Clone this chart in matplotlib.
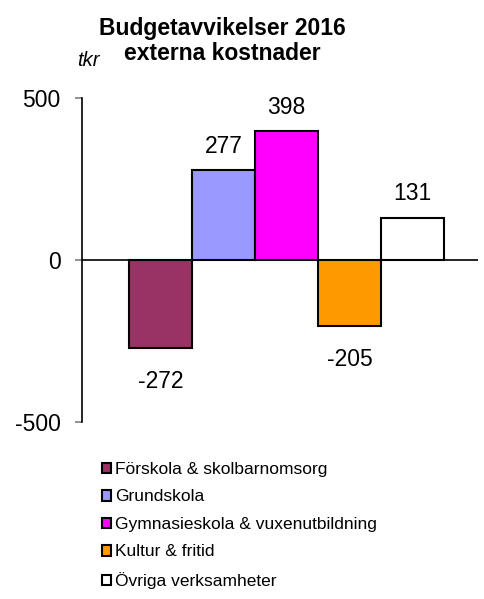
import matplotlib
matplotlib.use("Agg")
import matplotlib.pyplot as plt

plt.rcParams['font.family'] = ['Liberation Sans', 'DejaVu Sans']
plt.rcParams['axes.unicode_minus'] = False

# Budgetavvikelser per verksamhet (tkr)
kategorier = ["Förskola & skolbarnomsorg", "Grundskola",
              "Gymnasieskola & vuxenutbildning", "Kultur & fritid",
              "Övriga verksamheter"]
avvikelse = [-272, 277, 398, -205, 131]
farger = ["#993366", "#9999FF", "#FF00FF", "#FF9900", "#FFFFFF"]

fig = plt.figure(figsize=(4.84, 5.99), dpi=100)
ax = fig.add_axes([82 / 484, 1 - 422 / 599, 396 / 484, 324 / 599])

x = list(range(len(avvikelse)))
staplar = ax.bar(x, avvikelse, width=1.0, color=farger, edgecolor="black",
                 linewidth=1.5, label=kategorier, zorder=3)

# värdeetiketter ovanför/under staplarna
for xi, v in zip(x, avvikelse):
    dy = 17 if v >= 0 else -24
    ax.annotate(f"{v}", (xi, v), xytext=(0, dy), textcoords="offset points",
                ha="center", va="center", fontsize=16.5)

ax.axhline(0, color="black", linewidth=1.2, zorder=2)
ax.set_ylim(-500, 500)
ax.set_xlim(-0.5 - 47 / 63, 4.5 + 34 / 63)
ax.set_yticks([-500, 0, 500])
ax.tick_params(axis="y", labelsize=16.5, length=5, width=1.2, color="#808080",
               pad=10.5)
ax.set_xticks([])
for s in ["top", "right", "bottom"]:
    ax.spines[s].set_visible(False)
ax.spines["left"].set_linewidth(1.2)

fig.text(222 / 484, 1 - 29 / 599, "Budgetavvikelser 2016",
         ha="center", va="center", fontsize=16.5, fontweight="bold")
fig.text(222 / 484, 1 - 53 / 599, "externa kostnader",
         ha="center", va="center", fontsize=16.5, fontweight="bold")
fig.text(88 / 484, 1 - 61 / 599, "tkr", ha="center", va="center",
         fontsize=14.5, style="italic")

fig.legend(handles=staplar, labels=kategorier, loc="upper left",
           bbox_to_anchor=(95 / 484, 1 - 455 / 599), frameon=False,
           fontsize=12.5, handlelength=0.55, handleheight=0.55,
           handletextpad=0.2, labelspacing=0.72, borderaxespad=0)

fig.savefig("out.png", dpi=100)
